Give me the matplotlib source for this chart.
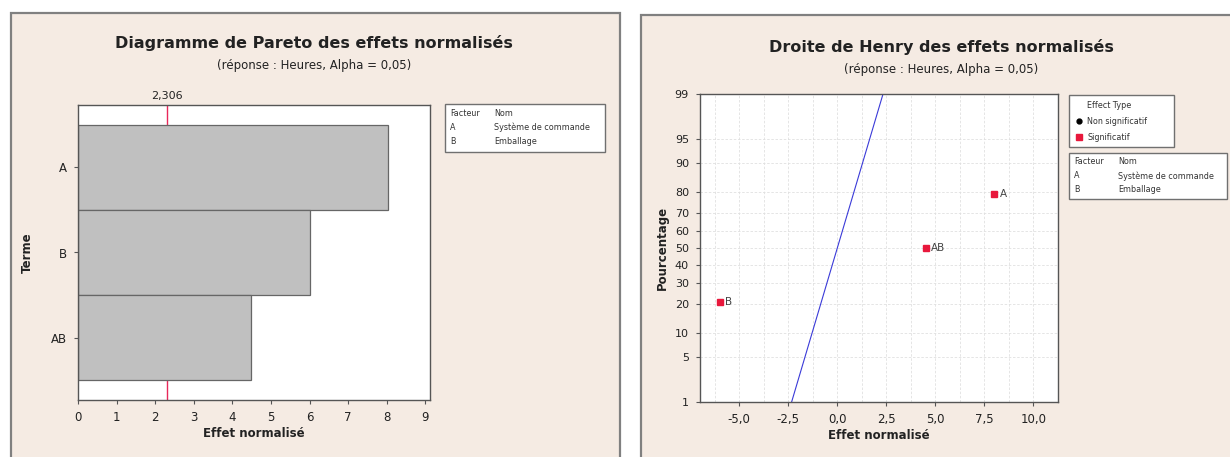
import matplotlib.pyplot as plt
from matplotlib.patches import Rectangle
from matplotlib.lines import Line2D
from matplotlib.transforms import blended_transform_factory
from statistics import NormalDist

# Data
terms = ['A', 'B', 'AB']
effects = [8.03, 6.01, 4.49]
critical = 2.306

henry_labels = ['A', 'B', 'AB']
henry_effects = [8.0, -6.0, 4.5]
henry_pct = [79.4, 20.6, 50.0]
ref_line_eff = [-2.33, 2.33]
ref_line_pct = [1, 99]

pct_ticks = [1, 5, 10, 20, 30, 40, 50, 60, 70, 80, 90, 95, 99]
x_ticks_right = [-5.0, -2.5, 0.0, 2.5, 5.0, 7.5, 10.0]

W, H = 1230, 457
BEIGE = '#f5ebe3'
SPINE = '#555555'
TXT = '#222222'

nd = NormalDist()
def z(p):
    return nd.inv_cdf(p / 100.0)

def fx(x):
    return x / W

def fy(y):
    return 1 - y / H

def fr(x0, y0, x1, y1):
    return [fx(x0), fy(y1), (x1 - x0) / W, (y1 - y0) / H]

def comma(v, nd=1):
    return f'{v:.{nd}f}'.replace('.', ',')

fig = plt.figure(figsize=(W / 100, H / 100), dpi=100)
fig.patch.set_facecolor('white')

# panel backgrounds
for x0, y0, x1 in [(11, 13, 620), (641, 15, 1240)]:
    fig.add_artist(Rectangle((fx(x0), fy(470)), (x1 - x0) / W, (470 - y0) / H,
                             transform=fig.transFigure, facecolor=BEIGE,
                             edgecolor='#808080', lw=1.6, zorder=0))

def style_axes(ax):
    ax.set_facecolor('white')
    for s in ax.spines.values():
        s.set_color(SPINE)
        s.set_linewidth(1.0)
    ax.tick_params(direction='out', length=3, width=0.8, color=SPINE,
                   labelsize=8.5, labelcolor=TXT, pad=5)

# ---------- Pareto ----------
axL = fig.add_axes(fr(78, 105, 430, 400))
style_axes(axL)
ypos = list(range(len(terms)))
axL.axvline(critical, color='#e8285a', lw=1.0, zorder=1)
axL.barh(ypos, effects, height=1.0, color='#c0c0c0', edgecolor='#666666', lw=0.9, zorder=2)
axL.set_yticks(ypos)
axL.set_yticklabels(terms)
axL.set_ylim(2.5 + 0.235, -0.5 - 0.235)
axL.set_xlim(0, 9.12)
axL.set_xticks(range(10))
axL.set_xlabel('Effet normalisé', fontsize=8.5, fontweight='bold', color=TXT, labelpad=2)
axL.set_ylabel('Terme', fontsize=8.5, fontweight='bold', color=TXT, labelpad=12)
tr = blended_transform_factory(axL.transData, axL.transAxes)
axL.text(critical, 1.012, comma(critical, 3), transform=tr, ha='center', va='bottom',
         fontsize=8, color=TXT)

fig.text(fx(314), fy(43), 'Diagramme de Pareto des effets normalisés', ha='center', va='center',
         fontsize=11.5, fontweight='bold', color=TXT)
fig.text(fx(314), fy(66), '(réponse : Heures, Alpha = 0,05)', ha='center', va='center',
         fontsize=8.5, color=TXT)

# ---------- Henry ----------
axR = fig.add_axes(fr(700, 94, 1058, 402))
style_axes(axR)
axR.set_xlim(-7, 10.2)
axR.set_ylim(z(1), z(99))
axR.set_xticks(x_ticks_right)
axR.set_xticklabels([comma(v) for v in x_ticks_right])
axR.set_xticks([v + 1.25 for v in [-7.5] + x_ticks_right], minor=True)
axR.tick_params(axis='x', which='minor', length=0)
axR.tick_params(axis='y', labelsize=8)
axR.set_yticks([z(p) for p in pct_ticks])
axR.set_yticklabels([str(p) for p in pct_ticks])
axR.grid(True, which='both', axis='x', color='#e0e0e0', lw=0.6, ls=(0, (3, 2)), zorder=0)
axR.grid(True, which='major', axis='y', color='#e0e0e0', lw=0.6, ls=(0, (3, 2)), zorder=0)
axR.plot(ref_line_eff, [z(p) for p in ref_line_pct], color='#3a3ad8', lw=0.8, zorder=2)
axR.plot(henry_effects, [z(p) for p in henry_pct], ls='none', marker='s', ms=5,
         color='#e8183c', zorder=3)
for lab, xv, pv in zip(henry_labels, henry_effects, henry_pct):
    axR.annotate(lab, (xv, z(pv)), xytext=(4, 0), textcoords='offset points',
                 va='center', ha='left', fontsize=7.5, color='#444444')
axR.set_xlabel('Effet normalisé', fontsize=8.5, fontweight='bold', color=TXT, labelpad=2)
axR.set_ylabel('Pourcentage', fontsize=8.5, fontweight='bold', color=TXT, labelpad=4)

fig.text(fx(941), fy(47), 'Droite de Henry des effets normalisés', ha='center', va='center',
         fontsize=11.5, fontweight='bold', color=TXT)
fig.text(fx(941), fy(70), '(réponse : Heures, Alpha = 0,05)', ha='center', va='center',
         fontsize=8.5, color=TXT)

# ---------- legend boxes ----------
def box(x0, y0, x1, y1):
    fig.add_artist(Rectangle((fx(x0), fy(y1)), (x1 - x0) / W, (y1 - y0) / H,
                             transform=fig.transFigure, facecolor='white',
                             edgecolor='#707070', lw=1.0, zorder=1))

LFS = 5.8
def factor_box(x0, y0, x1, y1, xname, rows_y):
    box(x0, y0, x1, y1)
    rows = [('Facteur', 'Nom'), ('A', 'Système de commande'), ('B', 'Emballage')]
    for (a, b), yy in zip(rows, rows_y):
        fig.text(fx(x0 + 5), fy(yy), a, fontsize=LFS, va='center', color='#333333')
        fig.text(fx(xname), fy(yy), b, fontsize=LFS, va='center', color='#333333')

factor_box(445, 104, 605, 152, 494, [113, 127, 141])
factor_box(1069, 153, 1227, 199, 1118, [162, 176, 189])

box(1069, 95, 1174, 147)
fig.text(fx(1087), fy(105), 'Effect Type', fontsize=LFS, va='center', color='#333333')
fig.add_artist(Line2D([fx(1079)], [fy(121)], marker='o', ms=3.5, color='black',
                      transform=fig.transFigure))
fig.text(fx(1087), fy(121), 'Non significatif', fontsize=LFS, va='center', color='#333333')
fig.add_artist(Line2D([fx(1079)], [fy(137)], marker='s', ms=4, color='#e8183c',
                      transform=fig.transFigure))
fig.text(fx(1087), fy(137), 'Significatif', fontsize=LFS, va='center', color='#333333')

fig.savefig('out.png', dpi=100)
